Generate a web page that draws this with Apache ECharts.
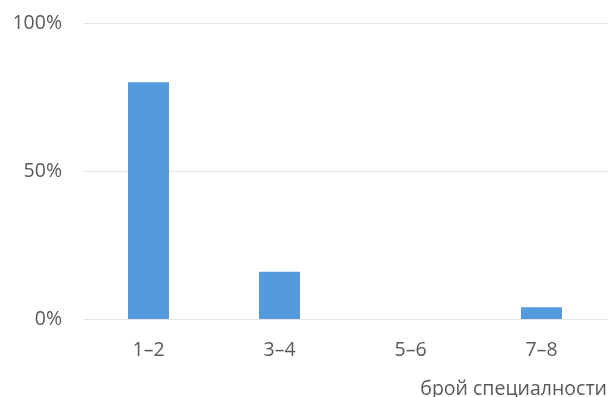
<!DOCTYPE html>
<html>
<head>
<meta charset="utf-8">
<script src="https://cdn.jsdelivr.net/npm/echarts@6/dist/echarts.min.js"></script>
<style>
  html, body { margin: 0; padding: 0; background: #fff; }
  #chart { width: 614px; height: 397px; }
</style>
</head>
<body>
<div id="chart"></div>
<script>
// Share of respondents by number of specialties
const categories = ['1–2', '3–4', '5–6', '7–8'];
const shares = [80, 16, 0, 4];
const yTicks = [0, 50, 100];
const axisTitle = 'брой специалности';

const textColor = '#595959';
const fontFamily = '"Open Sans", "DejaVu Sans", sans-serif';
const fontSize = 19.5;

const chart = echarts.init(document.getElementById('chart'), null, { renderer: 'canvas' });
chart.setOption({
  animation: false,
  grid: {
    left: 83, right: 7, top: 23, bottom: 78,
    containLabel: false,
    outerBoundsMode: 'none'
  },
  xAxis: {
    type: 'category',
    data: categories,
    axisLine: { show: true, lineStyle: { color: '#e6e6e6', width: 1 } },
    axisTick: { show: false },
    axisLabel: { color: textColor, fontSize: fontSize, fontFamily: fontFamily, margin: 21 },
    name: axisTitle,
    nameLocation: 'end',
    nameGap: 0,
    nameTextStyle: {
      color: textColor, fontSize: fontSize, fontFamily: fontFamily,
      align: 'right', verticalAlign: 'top', padding: [60, 0, 0, 0]
    }
  },
  yAxis: {
    type: 'value',
    min: yTicks[0],
    max: yTicks[yTicks.length - 1],
    interval: 50,
    axisLine: { show: false },
    axisTick: { show: false },
    splitLine: { lineStyle: { color: '#e6e6e6', width: 1 } },
    axisLabel: {
      color: textColor, fontSize: fontSize, fontFamily: fontFamily, margin: 21,
      formatter: v => v + '%'
    }
  },
  series: [{
    type: 'bar',
    data: shares,
    barWidth: 41,
    itemStyle: { color: '#559ADC' }
  }]
});
</script>
</body>
</html>
